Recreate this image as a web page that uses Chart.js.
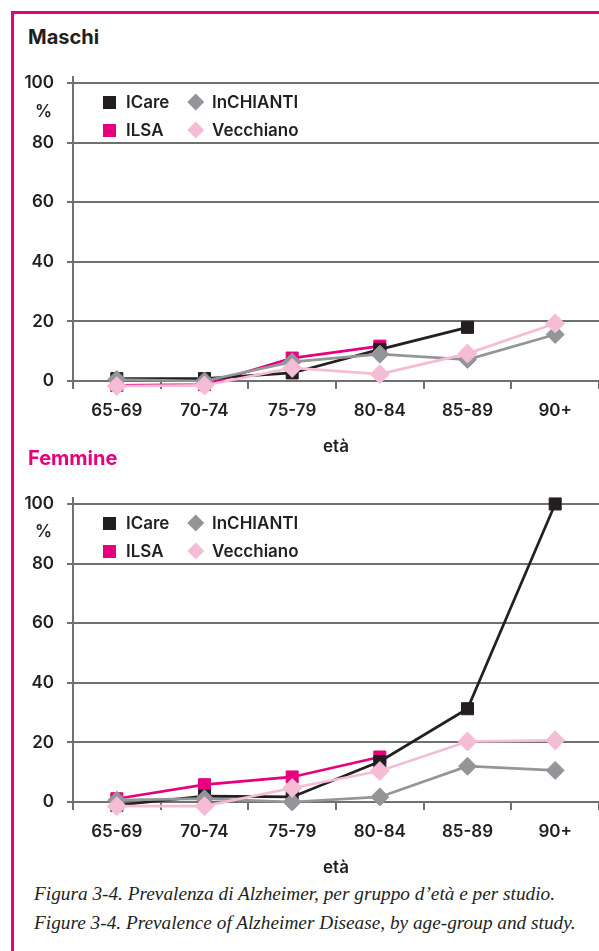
<!DOCTYPE html>
<html>
<head>
<meta charset="utf-8">
<script src="https://cdn.jsdelivr.net/npm/chart.js@4.4.1/dist/chart.umd.min.js"></script>
<style>
  html, body { margin:0; padding:0; background:#fff; }
  body { position:relative; width:599px; height:951px; overflow:hidden; font-family: Inter, "Liberation Sans", sans-serif; color:#231f20; }
  #frameTop { position:absolute; left:11px; top:11px; right:0; height:3px; background:#e6007e; }
  #frameLeft { position:absolute; left:11px; top:11px; width:3px; bottom:0; background:#e6007e; }
  .ptitle { position:absolute; left:28px; font-weight:700; font-size:20px; line-height:24px; }
  .cwrap { position:absolute; left:0; width:599px; height:397px; }
  .pct { position:absolute; right:547px; font-size:17px; font-weight:600; line-height:20px; }
  .leg { position:absolute; font-size:17px; font-weight:600; line-height:20px; white-space:nowrap; }
  .sq { position:absolute; width:13px; height:13px; }
  .dm { position:absolute; width:11.5px; height:11.5px; transform:rotate(45deg); }
  .caption { position:absolute; left:34px; font-family:"Liberation Serif", serif; font-style:italic; font-size:19.3px; line-height:22px; white-space:nowrap; color:#231f20; }
</style>
</head>
<body>
<div id="frameTop"></div>
<div id="frameLeft"></div>

<div class="ptitle" style="top:25px;">Maschi</div>
<div class="cwrap" style="top:60px;"><canvas id="c1" width="599" height="397"></canvas></div>
<div class="pct" style="top:101px;">%</div>
<div id="leg1"></div>

<div class="ptitle" style="top:446px; color:#e6007e;">Femmine</div>
<div class="cwrap" style="top:481px;"><canvas id="c2" width="599" height="397"></canvas></div>
<div class="pct" style="top:521px;">%</div>
<div id="leg2"></div>

<div class="caption" style="top:883px;">Figura 3-4. Prevalenza di Alzheimer, per gruppo d’età e per studio.</div>
<div class="caption" style="top:912px;">Figure 3-4. Prevalence of Alzheimer Disease, by age-group and study.</div>

<script>
// ---- data ----
const ageGroups = ["65-69", "70-74", "75-79", "80-84", "85-89", "90+"];
const yTicks = [0, 20, 40, 60, 80, 100];
const seriesNames = ["ICare", "ILSA", "InCHIANTI", "Vecchiano"];

const maschiICare     = [0.8, 0.8, 2.7, 10.6, 18.0, null];
const maschiILSA      = [-1.5, -1.2, 7.7, 11.7, null, null];
const maschiInCHIANTI = [0.5, 0.0, 6.4, 9.0, 7.2, 15.6];
const maschiVecchiano = [-1.7, -1.5, 4.4, 2.3, 9.2, 19.3];

const femmineICare     = [-1.1, 2.0, 1.7, 13.6, 31.3, 100];
const femmineILSA      = [1.1, 5.8, 8.4, 15.1, null, null];
const femmineInCHIANTI = [0.6, 1.1, 0.0, 1.7, 12.0, 10.6];
const femmineVecchiano = [-1.4, -1.4, 4.7, 10.4, 20.3, 20.7];

// ---- styles ----
const colors = { ICare:"#231f20", ILSA:"#e6007e", InCHIANTI:"#939598", Vecchiano:"#f5bcd6" };
const styles = { ICare:"rect", ILSA:"rect", InCHIANTI:"rectRot", Vecchiano:"rectRot" };
const radii  = { ICare:8.5, ILSA:8.5, InCHIANTI:9, Vecchiano:9.5 };
const drawOrder = { ICare:2, ILSA:3, InCHIANTI:1, Vecchiano:0 };
const gridColor = "#707070";
const txtFont = { family:"Inter", size:17, weight:"600" };

Chart.defaults.font.family = "Inter";
Chart.defaults.color = "#231f20";

function ds(name, values) {
  return {
    label: name, data: values,
    borderColor: colors[name], backgroundColor: colors[name],
    pointBackgroundColor: colors[name], pointBorderColor: colors[name],
    borderWidth: 2.7, pointBorderWidth: 1,
    pointStyle: styles[name], pointRadius: radii[name],
    order: drawOrder[name], clip: false, spanGaps: false, tension: 0
  };
}

function makeChart(id, sets) {
  return new Chart(document.getElementById(id), {
    type: "line",
    data: { labels: ageGroups, datasets: sets },
    options: {
      responsive: false, animation: false,
      layout: { autoPadding: false, padding: { top: 17, left: 0, right: 0, bottom: 0 } },
      plugins: { legend: { display: false }, tooltip: { enabled: false } },
      scales: {
        x: {
          type: "category", offset: true,
          grid: { offset: true, drawOnChartArea: false, drawTicks: true, tickLength: 8, color: gridColor, lineWidth: 2 },
          border: { display: true, color: gridColor, width: 2 },
          ticks: { font: txtFont, color: "#231f20", padding: 12, maxRotation: 0, autoSkip: false },
          title: { display: true, text: "età", font: txtFont, color: "#231f20", padding: 0 },
          afterFit: s => { s.height = 76; s.paddingLeft = 0; s.paddingRight = 0; }
        },
        y: {
          min: 0, max: 102,
          grid: { color: gridColor, lineWidth: 2, drawTicks: true, tickLength: 6 },
          border: { display: true, color: gridColor, width: 2 },
          ticks: {
            stepSize: 20, includeBounds: false, padding: 13, font: txtFont, color: "#231f20",
            callback: v => yTicks.includes(v) ? String(v) : ""
          },
          afterFit: s => { s.width = 73; s.paddingTop = 0; s.paddingBottom = 0; }
        }
      }
    }
  });
}

makeChart("c1", seriesNames.map((n, i) => ds(n, [maschiICare, maschiILSA, maschiInCHIANTI, maschiVecchiano][i])));
makeChart("c2", seriesNames.map((n, i) => ds(n, [femmineICare, femmineILSA, femmineInCHIANTI, femmineVecchiano][i])));

// ---- HTML legends ----
function legend(containerId, row1Y) {
  const el = document.getElementById(containerId);
  const layout = [
    { name:"ICare", col:0, row:0 }, { name:"InCHIANTI", col:1, row:0 },
    { name:"ILSA", col:0, row:1 }, { name:"Vecchiano", col:1, row:1 }
  ];
  layout.forEach(it => {
    const cy = row1Y + it.row * 28;
    const mark = document.createElement("div");
    if (styles[it.name] === "rect") {
      mark.className = "sq";
      mark.style.left = (it.col === 0 ? 103 : 189) + "px";
      mark.style.top = (cy - 6.5) + "px";
    } else {
      mark.className = "dm";
      mark.style.left = (it.col === 0 ? 103.5 : 189.5) + "px";
      mark.style.top = (cy - 5.75) + "px";
    }
    mark.style.background = colors[it.name];
    el.appendChild(mark);
    const t = document.createElement("div");
    t.className = "leg";
    t.textContent = it.name;
    t.style.left = (it.col === 0 ? 126 : 212) + "px";
    t.style.top = (cy - 10) + "px";
    el.appendChild(t);
  });
}
legend("leg1", 102);
legend("leg2", 523);
</script>
</body>
</html>
